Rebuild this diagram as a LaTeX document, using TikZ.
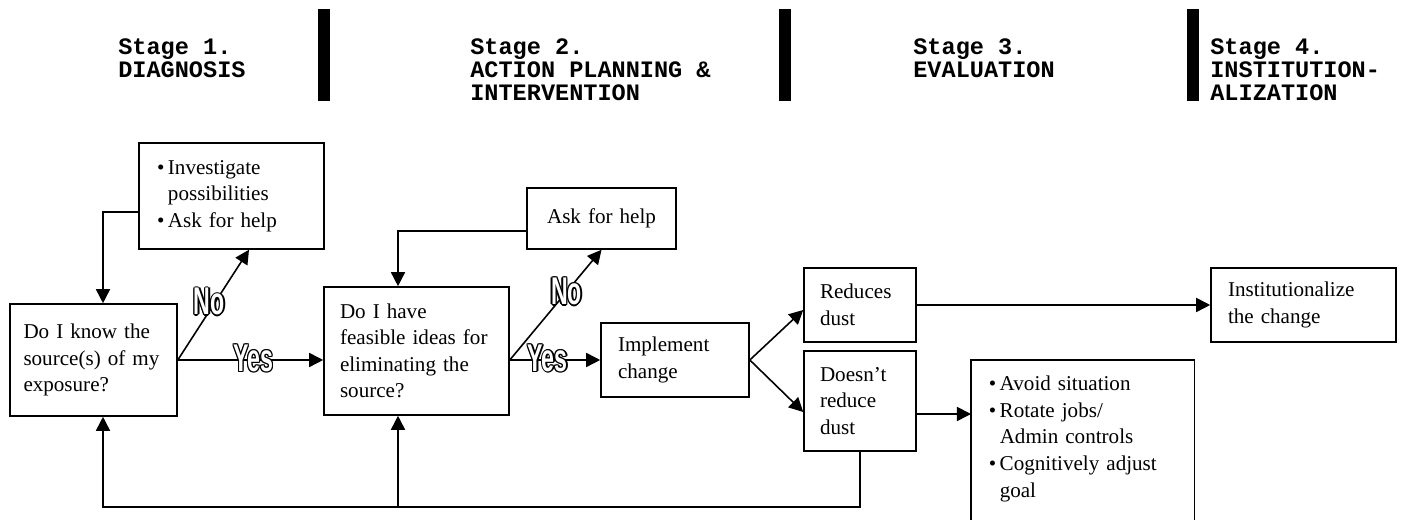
\documentclass[tikz,border=0pt]{standalone}
\usepackage{fontspec}
\setmainfont{Liberation Serif}
\newfontfamily\stagefont{Liberation Mono}
\newfontfamily\ynfont{Liberation Sans}[FakeStretch=0.6]
\usetikzlibrary{arrows.meta,positioning}
\newcommand\itm{\makebox[0.52em][l]{\textbullet}}
\newcommand\shd[3]{\rlap{\kern#1\raisebox{#2}{#3}}}
\newcommand\hollow[1]{\shd{-.75pt}{0pt}{#1}\shd{.75pt}{0pt}{#1}\shd{0pt}{.75pt}{#1}\shd{0pt}{-.75pt}{#1}%
  \shd{.55pt}{.55pt}{#1}\shd{-.55pt}{.55pt}{#1}\shd{.55pt}{-.55pt}{#1}\shd{-.55pt}{-.55pt}{#1}\textcolor{white}{#1}}
\tikzset{
  box/.style={draw, line width=0.9pt, align=left, inner xsep=0.32cm, inner ysep=0pt, font=\fontsize{12}{15.1}\selectfont},
  arr/.style={-{Triangle[length=8pt,width=8pt]}, line width=0.9pt},
  yn/.style={font=\ynfont\bfseries\fontsize{22}{22}\selectfont, inner sep=0pt},
  stage/.style={font=\stagefont\bfseries\fontsize{13.4}{13}\selectfont, align=left, anchor=north west, inner sep=0pt}
}
\begin{document}
\begin{tikzpicture}
\useasboundingbox (0,0) rectangle (28.06,10.4);
\node[stage] (s1) at (2.36,9.63) {Stage 1.\\DIAGNOSIS};
\node[stage] (s2) at (9.40,9.63) {Stage 2.\\ACTION PLANNING \&\\INTERVENTION};
\node[stage] (s3) at (18.26,9.63) {Stage 3.\\EVALUATION};
\node[stage] (s4) at (24.20,9.63) {Stage 4.\\INSTITUTION-\\ALIZATION};
\fill (6.36,8.38) rectangle (6.60,10.22);
\fill (15.58,8.38) rectangle (15.82,10.22);
\fill (23.74,8.38) rectangle (23.98,10.22);

\node[box, text width=2.80cm, inner xsep=0.27cm, minimum height=2.24cm] (know) at (1.87,3.20) {Do I know the\\source(s) of my\\exposure?};
\node[box, text width=2.98cm, inner xsep=0.36cm, minimum height=2.12cm] (invest) at (4.63,6.48) {\itm Investigate\\\hspace*{0.52em}possibilities\\\itm Ask for help};
\node[box, text width=3.06cm, minimum height=2.56cm] (ideas) at (8.33,3.38) {Do I have\\feasible ideas for\\eliminating the\\source?};
\node[box, align=center, text width=2.34cm, minimum height=1.22cm] (help) at (12.03,6.03) {Ask for help};
\node[box, text width=2.28cm, inner xsep=0.34cm, minimum height=1.48cm] (impl) at (13.50,3.20) {Implement\\change};
\node[box, text width=1.60cm, minimum height=1.48cm] (red) at (17.20,4.30) {Reduces\\dust};
\node[box, text width=1.60cm, minimum height=2.00cm] (nored) at (17.20,2.38) {Doesn’t\\reduce\\dust};
\node[box, text width=3.02cm, inner xsep=0.34cm, minimum height=1.48cm] (inst) at (26.07,4.30) {Institutionalize\\the change};
\node[box, draw=none, anchor=north west, text width=3.76cm, inner xsep=0.34cm, inner ysep=0.31cm] (opts) at (19.42,3.20) {\itm Avoid situation\\\itm Rotate jobs/\\\hspace*{0.52em}Admin controls\\\itm Cognitively adjust\\\hspace*{0.52em}goal};
\draw[line width=0.9pt] (opts.north west) rectangle ([yshift=-0.4cm]opts.south east);

\coordinate (fb) at (2.06,0.26);
\coordinate (fbc) at (7.96,0.26);
\coordinate (dn) at ([yshift=-0.26cm]nored.east);
\draw[arr] (know.east) -- node[yn,pos=0.52,yshift=1pt]{\hollow{Yes}} (know.east -| ideas.west);
\draw[arr] (know.east) -- node[yn,pos=0.5,xshift=-0.08cm,yshift=0.06cm]{\hollow{No}} ([xshift=0.35cm]invest.south);
\draw[arr] ([yshift=-0.32cm]invest.west) -| (fb |- know.north);
\draw[arr] (impl.west -| ideas.east) -- node[yn,pos=0.42,yshift=1pt]{\hollow{Yes}} (impl.west);
\draw[arr] (impl.west -| ideas.east) -- node[yn,pos=0.62]{\hollow{No}} (help.south);
\draw[arr] ([yshift=-0.25cm]help.west) -| (fbc |- ideas.north);
\draw[arr] (impl.east) -- ([yshift=-0.1cm]red.west);
\draw[arr] (impl.east) -- ([yshift=-0.22cm]nored.west);
\draw[arr] (red.east) -- (inst.west);
\draw[arr] (dn) -- (dn -| opts.west);
\draw[arr] (nored.south) |- (fb) -- (fb |- know.south);
\draw[arr] (fbc) -- (fbc |- ideas.south);
\end{tikzpicture}
\end{document}
